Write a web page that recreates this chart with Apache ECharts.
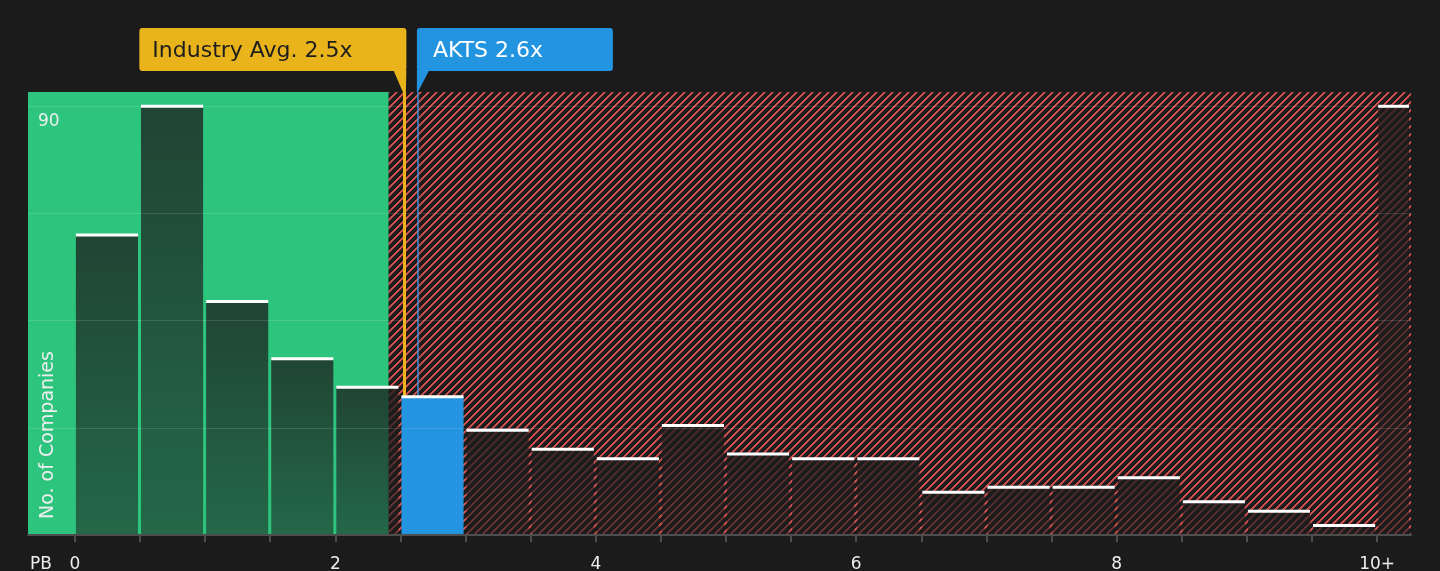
<!DOCTYPE html>
<html>
<head>
<meta charset="utf-8">
<script src="https://cdn.jsdelivr.net/npm/echarts@6/dist/echarts.min.js"></script>
<style>
html,body{margin:0;padding:0;background:#1b1b1b;}
#chart{width:1440px;height:571px;}
</style>
</head>
<body>
<div id="chart"></div>
<script>
// ---- data ----
const binStarts = [0,0.5,1,1.5,2,2.5,3,3.5,4,4.5,5,5.5,6,6.5,7,7.5,8,8.5,9,9.5,10];
const counts    = [63,90,49,37,31,29,22,18,16,23,17,16,16,9,10,10,12,7,5,2,90];
const tickValues = [0,2,4,6,8,10];
const tickLabels = ['0','2','4','6','8','10+'];
const gridValues = [22.5,45,67.5,90];
const yLabelValues = [90];
const industryAvg = 2.53;
const industryLabel = 'Industry Avg. 2.5x';
const companyPB = 2.63;
const companyLabel = 'AKTS 2.6x';
const fairUpper = 2.41;
const xMin = -0.36, xMax = 10.26, yMax = 93;

// ---- build ----
const barData = binStarts.map((s, i) => {
  const e = i < binStarts.length - 1 ? binStarts[i + 1] : xMax;
  const hl = (companyPB >= s && companyPB < e) ? 1 : 0;
  return [s, e, counts[i], hl];
});

// pixel-exact diagonal hatch tile
const T = 8;
const pc = document.createElement('canvas');
pc.width = T; pc.height = T;
const ctx = pc.getContext('2d');
ctx.fillStyle = '#1b1b1b'; ctx.fillRect(0, 0, T, T);
for (let y = 0; y < T; y++) {
  const x0 = ((T - 1 - y) % T + T) % T;
  ctx.fillStyle = '#d25050';
  ctx.fillRect(x0, y, 1, 1);
  ctx.fillRect((x0 + 1) % T, y, 1, 1);
  ctx.fillStyle = 'rgba(210,80,80,0.65)';
  ctx.fillRect((x0 + 2) % T, y, 1, 1);
}

const FONT = 'DejaVu Sans';
const chart = echarts.init(document.getElementById('chart'), null, {renderer: 'canvas', devicePixelRatio: 1});

const option = {
  backgroundColor: '#1b1b1b',
  animation: false,
  textStyle: {fontFamily: FONT},
  grid: {left: 28, right: 29, top: 92, bottom: 36, containLabel: false, outerBoundsMode: 'none'},
  xAxis: {
    type: 'value', min: xMin, max: xMax, z: 10,
    splitLine: {show: false},
    axisLine: {show: true, lineStyle: {color: '#4d4d4d', width: 2}},
    axisTick: {show: true, customValues: binStarts, length: 7, lineStyle: {color: '#4d4d4d', width: 2}},
    axisLabel: {
      show: true, customValues: tickValues, margin: 21,
      color: '#eeeeee', fontSize: 17, fontFamily: FONT,
      formatter: v => { const i = tickValues.indexOf(v); return i >= 0 ? tickLabels[i] : ''; }
    }
  },
  yAxis: {
    type: 'value', min: 0, max: yMax, z: 10,
    splitLine: {show: false},
    axisLine: {show: false}, axisTick: {show: false},
    axisLabel: {
      show: true, inside: true, customValues: yLabelValues, margin: 10,
      verticalAlign: 'top', padding: [7, 0, 0, 0],
      color: '#eeeeee', fontSize: 17, fontFamily: FONT
    }
  },
  series: [
    {
      type: 'scatter', data: [], silent: true, z: 1,
      markArea: {
        silent: true, z: 1,
        data: [
          [{xAxis: xMin, itemStyle: {color: '#2dc57e'}}, {xAxis: fairUpper}],
          [{xAxis: fairUpper, itemStyle: {color: {image: pc, repeat: 'repeat'}}}, {xAxis: xMax}]
        ]
      },
      markLine: {
        silent: true, z: 2, symbol: 'none', label: {show: false},
        data: [
          {xAxis: industryAvg, lineStyle: {color: '#efb41d', width: 3, type: 'solid'}},
          {xAxis: companyPB, lineStyle: {color: '#3f8fd6', width: 1.5, type: 'solid'}}
        ]
      }
    },
    {
      type: 'custom', z: 3, silent: true,
      data: barData,
      renderItem: function (params, api) {
        const x0 = api.value(0), x1 = api.value(1), v = api.value(2), hl = api.value(3);
        const p0 = api.coord([x0, v]);
        const p1 = api.coord([x1, 0]);
        const left = p0[0] + 1;
        const w = p1[0] - p0[0] - 3;
        const top = p0[1];
        const h = p1[1] - p0[1];
        const fill = hl ? '#2394e0' : new echarts.graphic.LinearGradient(0, 0, 0, 1, [
          {offset: 0, color: 'rgba(28,28,28,0.76)'},
          {offset: 1, color: 'rgba(28,28,28,0.55)'}
        ]);
        return {
          type: 'group',
          children: [
            {type: 'rect', shape: {x: left, y: top, width: w, height: h}, style: {fill: fill}},
            {type: 'rect', shape: {x: left, y: top - 1.5, width: w, height: 3}, style: {fill: '#ffffff'}}
          ]
        };
      }
    },
    {
      type: 'scatter', data: [], silent: true, z: 4,
      markLine: {
        silent: true, z: 4, symbol: 'none', label: {show: false},
        lineStyle: {color: 'rgba(255,255,255,0.13)', width: 1, type: 'solid'},
        data: gridValues.map(v => ({yAxis: v}))
      }
    }
  ]
};
chart.setOption(option);

const indX = chart.convertToPixel({xAxisIndex: 0}, industryAvg);
const cmpX = chart.convertToPixel({xAxisIndex: 0}, companyPB);
const yTop = chart.convertToPixel({yAxisIndex: 0}, yMax);
const yBase = chart.convertToPixel({yAxisIndex: 0}, 0);
const boxTop = 28, boxH = 43, boxBottom = boxTop + boxH;
const yBoxW = 267, bBoxW = 196;

chart.setOption({
  graphic: [
    {type: 'rect', z: 10, shape: {x: indX + 2 - yBoxW, y: boxTop, width: yBoxW, height: boxH, r: 3}, style: {fill: '#e9b31c'}},
    {type: 'polygon', z: 10, shape: {points: [[indX - 11, boxBottom - 1], [indX + 2, boxBottom - 1], [indX + 1.5, yTop], [indX - 1.5, yTop]]}, style: {fill: '#e9b31c'}},
    {type: 'text', z: 11, x: indX + 2 - yBoxW + 13, y: boxTop + boxH / 2 + 2, style: {text: industryLabel, fill: '#1e1e1e', font: '22px "DejaVu Sans"', textAlign: 'left', textVerticalAlign: 'middle'}},
    {type: 'rect', z: 10, shape: {x: cmpX - 0.5, y: boxTop, width: bBoxW, height: boxH, r: 3}, style: {fill: '#2394e0'}},
    {type: 'polygon', z: 10, shape: {points: [[cmpX - 0.5, boxBottom - 1], [cmpX + 12, boxBottom - 1], [cmpX + 0.5, yTop], [cmpX - 0.5, yTop]]}, style: {fill: '#2394e0'}},
    {type: 'text', z: 11, x: cmpX + 15.5, y: boxTop + boxH / 2 + 2, style: {text: companyLabel, fill: '#ffffff', font: '22px "DejaVu Sans"', textAlign: 'left', textVerticalAlign: 'middle'}},
    {type: 'text', z: 11, x: 48, y: yBase - 16, rotation: Math.PI / 2, style: {text: 'No. of Companies', fill: '#eeeeee', font: '19px "DejaVu Sans"', textAlign: 'left', textVerticalAlign: 'middle'}},
    {type: 'text', z: 11, x: 30, y: 565, style: {text: 'PB', fill: '#eeeeee', font: '17px "DejaVu Sans"', textAlign: 'left', textVerticalAlign: 'middle'}}
  ]
});
</script>
</body>
</html>
